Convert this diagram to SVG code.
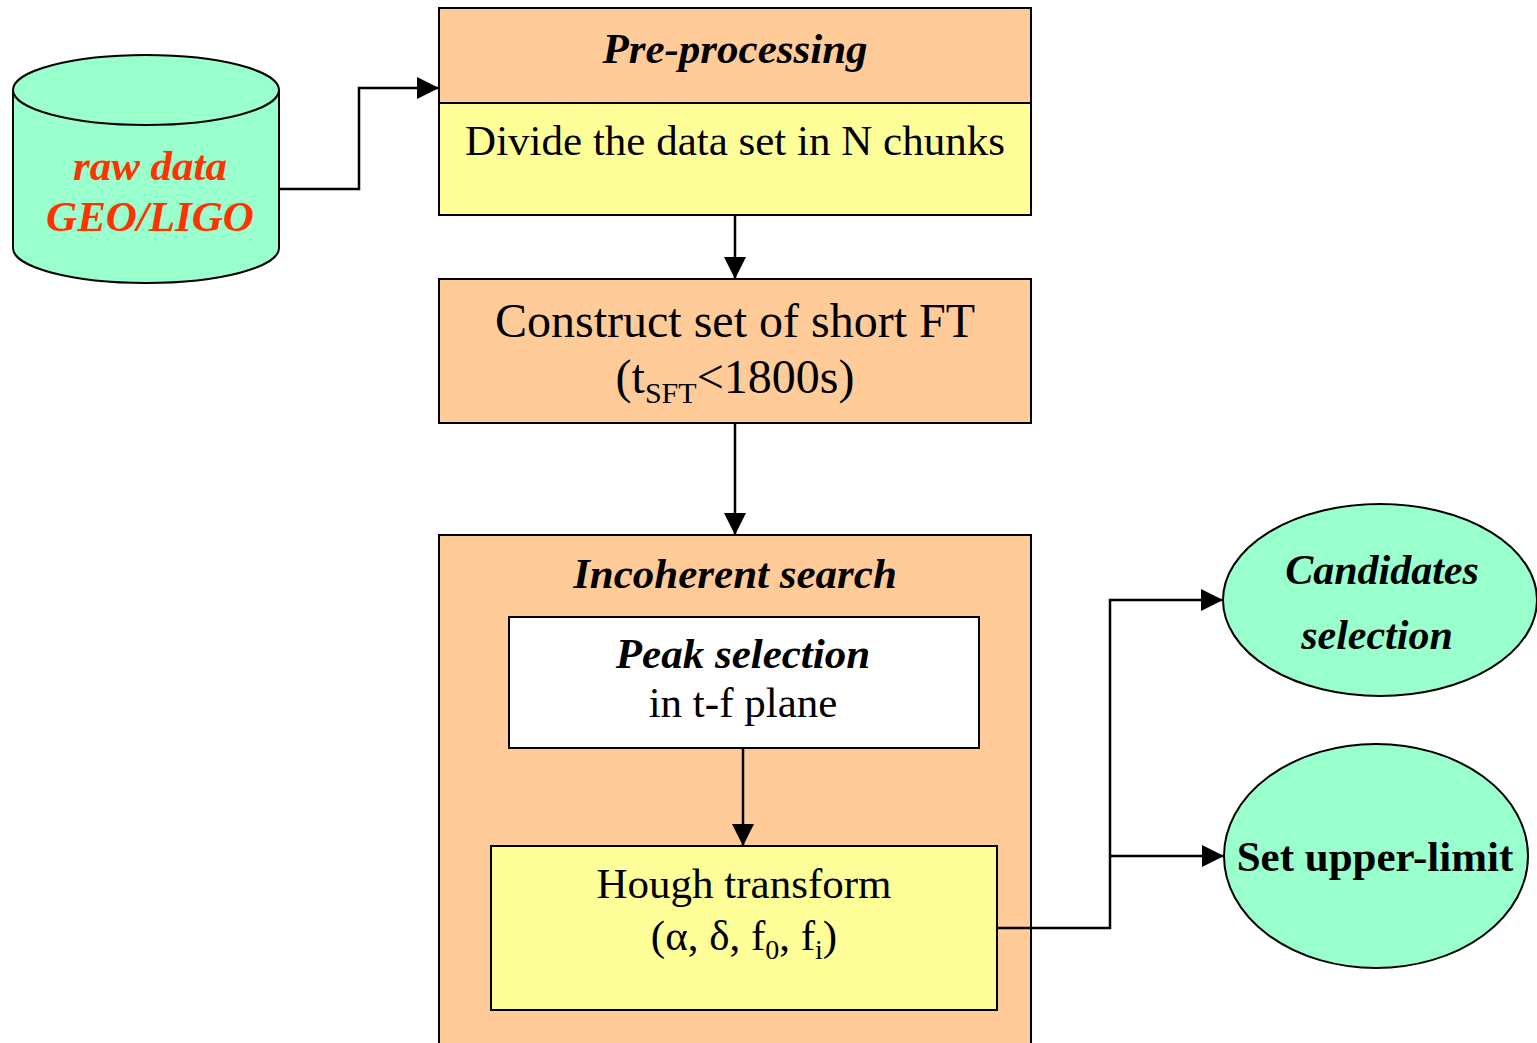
<svg xmlns="http://www.w3.org/2000/svg" width="1537" height="1043" viewBox="0 0 1537 1043">
<defs>
<marker id="ahb" viewBox="0 0 22 22" refX="22" refY="11" markerWidth="22" markerHeight="22" markerUnits="userSpaceOnUse" orient="auto"><path d="M0,0 L22,11 L0,22 z" fill="#000"/></marker>
<style>
.box{stroke:#000;stroke-width:2}
.orange{fill:#FFCC99}
.yellow{fill:#FFFF99}
.green{fill:#99FFCC}
.t{font-family:"Liberation Serif","Times New Roman",serif;text-anchor:middle;fill:#000}
.bi{font-weight:bold;font-style:italic}
.b{font-weight:bold}
.red{fill:#FF3300}
.conn{fill:none;stroke:#000;stroke-width:2.5}
</style>
</defs>
<rect width="1537" height="1043" fill="#fff"/>
<g id="raw-data">
<path d="M13,90 L13,248 A133,35 0 0 0 279,248 L279,90" class="box green"/>
<ellipse cx="146" cy="90" rx="133" ry="35" class="box green"/>
<text x="150" y="180" class="t bi red" font-size="43">raw data</text>
<text x="150" y="231" class="t bi red" font-size="43">GEO/LIGO</text>
</g>
<g id="pre-processing">
<rect x="439" y="8" width="592" height="95" class="box orange"/>
<rect x="439" y="103" width="592" height="112" class="box yellow"/>
<text x="735" y="63" class="t bi" font-size="43">Pre-processing</text>
<text x="735" y="155" class="t" font-size="43">Divide the data set in N chunks</text>
</g>
<g id="construct-sft">
<rect x="439" y="279" width="592" height="144" class="box orange"/>
<text x="735" y="337" class="t" font-size="48">Construct set of short FT</text>
<text x="735" y="393" class="t" font-size="48">(t<tspan font-size="30" dy="10">SFT</tspan><tspan dy="-10">&lt;1800s)</tspan></text>
</g>
<g id="incoherent-search">
<rect x="439" y="535" width="592" height="520" class="box orange"/>
<text x="735" y="588" class="t bi" font-size="43">Incoherent search</text>
</g>
<g id="peak-selection">
<rect x="509" y="617" width="470" height="131" class="box" fill="#fff"/>
<text x="743" y="668" class="t bi" font-size="43">Peak selection</text>
<text x="743" y="717" class="t" font-size="43">in t-f plane</text>
</g>
<g id="hough-transform">
<rect x="491" y="846" width="506" height="164" class="box yellow"/>
<text x="744" y="898" class="t" font-size="43">Hough transform</text>
<text x="744" y="950" class="t" font-size="43">(α, δ, f<tspan font-size="28" dy="9">0</tspan><tspan dy="-9">, f</tspan><tspan font-size="28" dy="9">i</tspan><tspan dy="-9">)</tspan></text>
</g>
<g id="candidates-selection">
<ellipse cx="1380" cy="600" rx="157" ry="96" class="box green"/>
<text x="1382" y="584" class="t bi" font-size="42">Candidates</text>
<text x="1377" y="649" class="t bi" font-size="42">selection</text>
</g>
<g id="set-upper-limit">
<ellipse cx="1376" cy="856" rx="152" ry="112" class="box green"/>
<text x="1375" y="871" class="t b" font-size="43">Set upper-limit</text>
</g>
<g id="connectors">
<path d="M279,189 H359 V88 H439" class="conn" marker-end="url(#ahb)"/>
<path d="M735,215 V279" class="conn" marker-end="url(#ahb)"/>
<path d="M735,423 V535" class="conn" marker-end="url(#ahb)"/>
<path d="M743,748 V846" class="conn" marker-end="url(#ahb)"/>
<path d="M997,928 H1110 V600 H1223" class="conn" marker-end="url(#ahb)"/>
<path d="M1110,856 H1224" class="conn" marker-end="url(#ahb)"/>
</g>
</svg>
